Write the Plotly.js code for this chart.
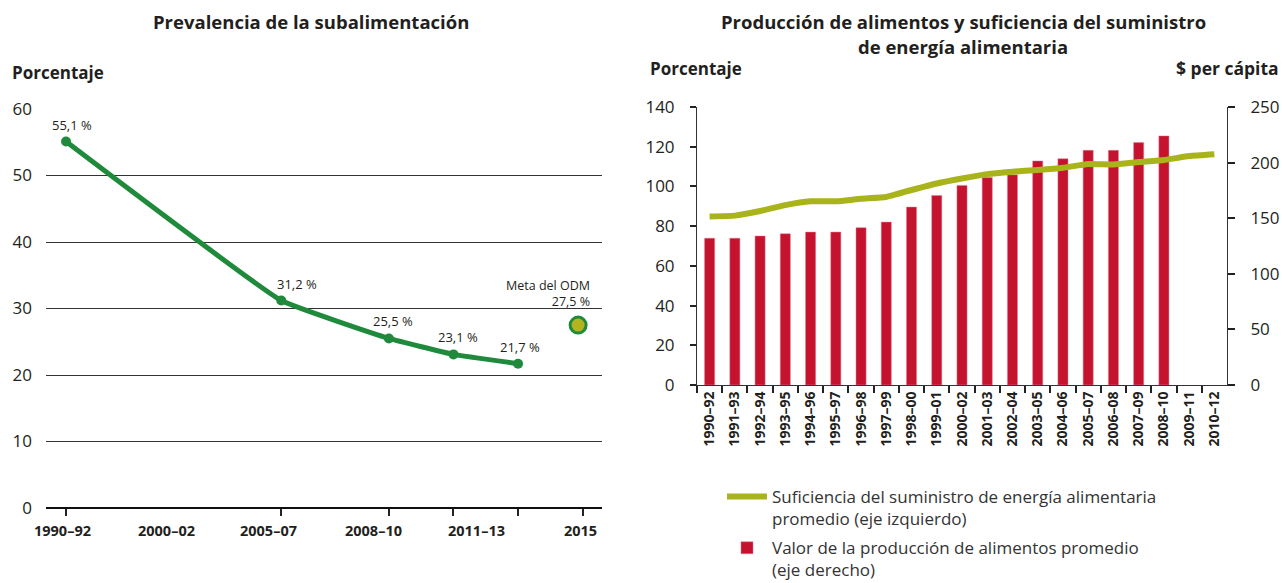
<!DOCTYPE html>
<html>
<head>
<meta charset="utf-8">
<script src="https://cdn.plot.ly/plotly-3.0.1.min.js"></script>
<style>html,body{margin:0;padding:0;background:#fff;}#chart{width:1282px;height:583px;}</style>
</head>
<body>
<div id="chart"></div>
<script>
// ---------- Left chart data: prevalence of undernourishment ----------
const prevPeriods = ["1990–92", "2005–07", "2008–10", "2011–13", "2012–14"];
const prevPos = [0, 10/3, 5, 6, 7];               // axis positions of the periods
const prevValues = [55.1, 31.2, 25.5, 23.1, 21.7];
const goalLabel = "Meta del ODM";
const goalPos = [7.93];
const goalValue = [27.5];
const prevTickPos = [0, 10/3, 5, 6, 7, 8];
const prevTickLabels = ["1990–92", "2000–02", "2005–07", "2008–10", "2011–13", "2015"];
const prevTickLabelPos = [-0.05, 1.56, 3.13, 4.76, 6.36, 7.97];

// ---------- Right chart data ----------
const years = ["1990–92","1991–93","1992–94","1993–95","1994–96","1995–97","1996–98","1997–99","1998–00","1999–01","2000–02","2001–03","2002–04","2003–05","2004–06","2005–07","2006–08","2007–09","2008–10","2009–11","2010–12"];
const energyAdequacy = [84.9, 85.3, 87.6, 90.6, 92.5, 92.5, 93.8, 94.7, 98.2, 101.5, 104.0, 106.2, 107.4, 108.3, 109.4, 111.3, 111.1, 112.3, 113.3, 115.3, 116.2];
const foodProdValue = [132, 132, 134, 136, 137.5, 137.5, 141.5, 146.5, 160, 170.5, 179.5, 186.5, 189, 201.5, 203.5, 211, 211, 218, 224, null, null];
const legendLine = "Suficiencia del suministro de energía alimentaria<br>promedio (eje izquierdo)";
const legendBar = "Valor de la producción de alimentos promedio<br>(eje derecho)";

const FONT = "Open Sans, Noto Sans, DejaVu Sans, sans-serif";
const TXT = "#231f20";
const GREEN = "#1f8a3b";
const OLIVE = "#a8b41a";
const RED = "#c4122f";

function fmt(v){ return v.toFixed(1).replace(".", ",") + " %"; }

const traces = [
  {
    type: "scatter", mode: "lines+markers",
    x: prevPos, y: prevValues, text: prevPeriods,
    xaxis: "x", yaxis: "y",
    line: {color: GREEN, width: 5, shape: "spline", smoothing: 0.3},
    marker: {color: GREEN, size: 10},
    showlegend: false, hoverinfo: "text+y"
  },
  {
    type: "scatter", mode: "markers",
    x: goalPos, y: goalValue,
    xaxis: "x", yaxis: "y",
    marker: {color: "#b3b41f", size: 16, line: {color: GREEN, width: 3}},
    showlegend: false, name: goalLabel
  },
  {
    type: "bar", x: years, y: foodProdValue,
    xaxis: "x2", yaxis: "y2",
    marker: {color: RED, line: {color: "#e37c8d", width: 0.5}},
    name: legendBar, legendrank: 2, legendgroup: "b"
  },
  {
    type: "scatter", mode: "lines", x: years, y: energyAdequacy,
    xaxis: "x2", yaxis: "y3",
    line: {color: OLIVE, width: 6, shape: "spline", smoothing: 0.4},
    name: legendLine, legendrank: 1, legendgroup: "a"
  }
];

const annotations = [];
// left data labels
const labelShiftX = [6, 16, 4, 5, 2];
prevValues.forEach((v, i) => {
  annotations.push({xref: "x", yref: "y", x: prevPos[i], y: v, text: fmt(v),
    xanchor: "center", showarrow: false, xshift: labelShiftX[i], yshift: 17,
    font: {family: FONT, size: 13, color: TXT}});
});
annotations.push({xref: "x", yref: "y", x: goalPos[0], y: goalValue[0],
  text: goalLabel + "<br>" + fmt(goalValue[0]), align: "right",
  xanchor: "right", yanchor: "bottom", xshift: 14, yshift: 13, showarrow: false,
  font: {family: FONT, size: 12.5, color: TXT}});
// left x tick labels
prevTickLabels.forEach((t, i) => {
  annotations.push({xref: "x", yref: "paper", x: prevTickLabelPos[i], y: 1 - 530/583,
    xanchor: "center", yanchor: "middle", text: "<b>" + t + "</b>", showarrow: false,
    font: {family: FONT, size: 14.5, color: TXT}});
});
// titles
function paperText(px, py, text, anchor, size){
  annotations.push({xref: "paper", yref: "paper", x: px/1282, y: 1 - py/583,
    xanchor: anchor, yanchor: "middle", text: text, showarrow: false,
    font: {family: FONT, size: size, color: TXT}});
}
paperText(311, 22, "<b>Prevalencia de la subalimentación</b>", "center", 18.5);
paperText(10, 72, "<b>Porcentaje</b>", "left", 17);
paperText(963, 22, "<b>Producción de alimentos y suficiencia del suministro</b>", "center", 18.5);
paperText(963, 46, "<b>de energía alimentaria</b>", "center", 18.5);
paperText(648, 68, "<b>Porcentaje</b>", "left", 17);
paperText(1281, 68, "<b>$ per cápita</b>", "right", 17.5);

const layout = {
  width: 1282, height: 583, autosize: false,
  margin: {l: 0, r: 0, t: 0, b: 0, autoexpand: false},
  paper_bgcolor: "#fff", plot_bgcolor: "rgba(0,0,0,0)",
  font: {family: FONT, color: TXT},
  bargap: 0.6,
  xaxis: {
    domain: [46/1282, 602/1282], range: [-0.31, 8.30],
    tickmode: "array", tickvals: prevTickPos, showticklabels: false,
    ticks: "outside", ticklen: 7, tickwidth: 2, tickcolor: "#222",
    showgrid: false, zeroline: false, showline: false, fixedrange: true, automargin: false
  },
  yaxis: {
    domain: [(583-508)/583, (583-109)/583], range: [0, 60], dtick: 10,
    showgrid: true, gridcolor: "#333", gridwidth: 1,
    zeroline: true, zerolinecolor: "#111", zerolinewidth: 1.5,
    ticks: "", ticklabelstandoff: 13, automargin: false,
    tickfont: {family: FONT, size: 17, color: TXT}, fixedrange: true
  },
  xaxis2: {
    domain: [697/1282, 1227/1282], type: "category", range: [-0.5, 20.5],
    anchor: "y2", tickangle: -90, tickson: "boundaries",
    ticks: "outside", ticklen: 7, tickwidth: 2, tickcolor: "#222",
    showline: true, linecolor: "#333", linewidth: 1, automargin: false,
    tickfont: {family: FONT, size: 14, color: TXT, weight: "bold"},
    showgrid: false, fixedrange: true
  },
  yaxis2: {
    domain: [(583-385)/583, (583-107)/583], anchor: "x2", side: "right",
    range: [0, 250], dtick: 50,
    ticks: "outside", ticklen: 7, tickwidth: 2, tickcolor: "#222",
    showline: true, linecolor: "#333", linewidth: 1, automargin: false,
    showgrid: false, zeroline: false, ticklabelstandoff: 12,
    tickfont: {family: FONT, size: 17, color: TXT}, fixedrange: true
  },
  yaxis3: {
    overlaying: "y2", anchor: "x2", side: "left",
    range: [0, 140], dtick: 20,
    ticks: "outside", ticklen: 6, tickwidth: 2, tickcolor: "#222",
    showline: true, linecolor: "#333", linewidth: 1, automargin: false,
    showgrid: false, zeroline: false, ticklabelstandoff: 12,
    tickfont: {family: FONT, size: 17, color: TXT}, fixedrange: true
  },
  showlegend: true,
  legend: {
    x: 722/1282, y: 1 - 479/583, xanchor: "left", yanchor: "top",
    orientation: "v", valign: "top", tracegroupgap: 4,
    font: {family: FONT, size: 17, color: "#333"},
    bgcolor: "rgba(0,0,0,0)", itemwidth: 40
  },
  annotations: annotations
};

Plotly.newPlot("chart", traces, layout, {displayModeBar: false, staticPlot: true});
</script>
</body>
</html>
